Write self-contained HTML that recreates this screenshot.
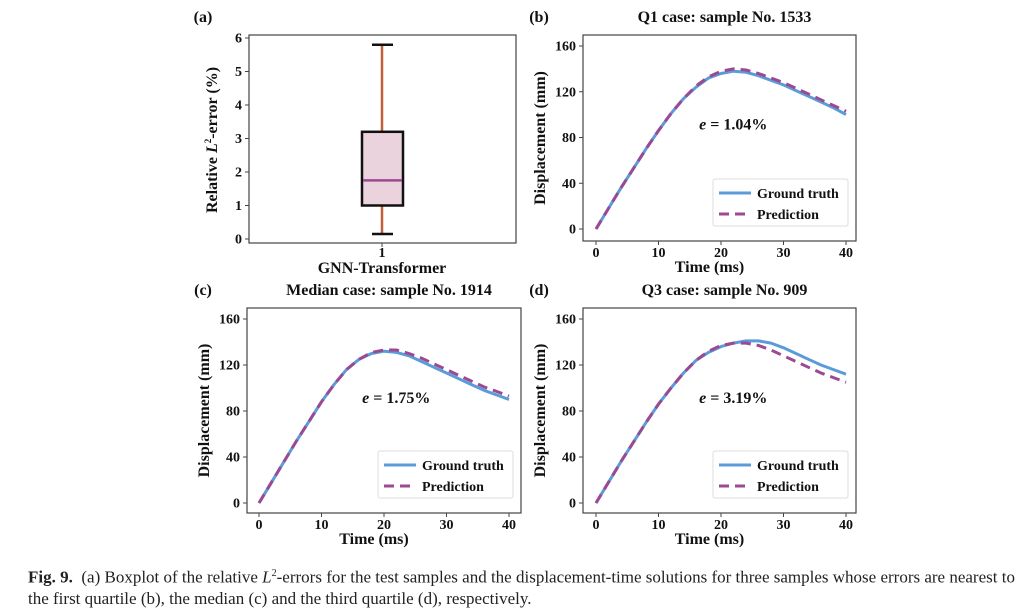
<!DOCTYPE html>
<html><head><meta charset="utf-8">
<style>
body{margin:0;background:#fff;width:1026px;height:606px;overflow:hidden;font-family:"Liberation Serif",serif;}
svg text{font-family:"Liberation Serif",serif;}
</style></head>
<body>
<svg id="fig" width="1026" height="606" xmlns="http://www.w3.org/2000/svg">
</svg>
<div style="position:absolute;left:28px;top:563px;width:1010px;font-size:17px;line-height:21px;font-family:'Liberation Serif',serif;color:#222;white-space:nowrap;">
<b>Fig. 9.</b>&nbsp; (a) Boxplot of the relative <i>L</i><sup style="font-size:10px">2</sup>-errors for the test samples and the displacement-time solutions for three samples whose errors are nearest to<br>the first quartile (b), the median (c) and the third quartile (d), respectively.
</div>
<script>
const boxStats = [0.15, 1.0, 1.75, 3.2, 5.8]; // min, q1, median, q3, max
const boxTicks = [0,1,2,3,4,5,6];
const timeVals = [0,2,4,6,8,10,12,14,16,18,20,22,24,26,28,30,32,34,36,38,40];
const q1Truth = [0,18,36,53,70,86,101,114,124,132,136,138,137,134,130,126,121,116,111,106,100];
const q1Pred  = [0,18,36,53,70,86,101,114,125,133,138,140,139,136,132,128,123,118,113,108,103];
const medTruth = [0,18,36,54,71,88,103,116,125,130,132,131,128,123,118,113,108,103,98,94,90];
const medPred  = [0,18,36,54,71,88,103,116,125,131,133,133,130,126,121,116,111,106,101,97,93];
const q3Truth = [0,18,36,53,70,86,100,113,124,131,136,139,141,141,139,135,130,125,120,116,112];
const q3Pred  = [0,18,36,53,70,86,100,113,124,132,137,139,139,137,133,128,123,118,113,109,105];
const xTicks = [0,10,20,30,40];
const yTicks = [0,40,80,120,160];

const NS='http://www.w3.org/2000/svg';
const svg=document.getElementById('fig');
function mk(tag,attrs,parent){const e=document.createElementNS(NS,tag);for(const k in attrs)e.setAttribute(k,attrs[k]);(parent||svg).appendChild(e);return e;}
function txt(s,x,y,size,anchor,parent,weight){const t=mk('text',{x:x,y:y,'font-size':size,'text-anchor':anchor||'middle','font-weight':weight||'bold',fill:'#111'},parent);t.textContent=s;return t;}

// Panel (a)
{
const g=mk('g',{});


const L=249,R=516,T=35,B=243;
const ys=v=>239-(v/6)*(239-38);
const cx=382;
mk('rect',{x:L,y:T,width:R-L,height:B-T,fill:'none',stroke:'#444','stroke-width':1.2},g);
boxTicks.forEach(v=>{const y=ys(v);mk('line',{x1:L-4,x2:L,y1:y,y2:y,stroke:'#444'},g);const t=txt(String(v),L-7,y+4.5,14,'end',g);});
mk('line',{x1:cx,x2:cx,y1:B,y2:B+4,stroke:'#444'},g);
txt('1',cx,257,14,'middle',g);
const xt=txt('GNN-Transformer',cx,273,16,'middle',g);

const yt=mk('text',{transform:'translate(217,140) rotate(-90)','font-size':16,'text-anchor':'middle','font-weight':'bold',fill:'#111'},g);
yt.innerHTML='Relative <tspan font-style="italic">L</tspan><tspan font-size="9" dy="-6">2</tspan><tspan dy="6">-error (%)</tspan>';

const w1=mk('line',{x1:cx,x2:cx,y1:ys(boxStats[0]),y2:ys(boxStats[1]),stroke:'#c0603a','stroke-width':2.5},g);

const w2=mk('line',{x1:cx,x2:cx,y1:ys(boxStats[3]),y2:ys(boxStats[4]),stroke:'#c0603a','stroke-width':2.5},g);

const bx=mk('rect',{x:362,y:ys(boxStats[3]),width:41,height:ys(boxStats[1])-ys(boxStats[3]),fill:'#ead3dd',stroke:'#111','stroke-width':2.5},g);

const md=mk('line',{x1:363,x2:402,y1:ys(boxStats[2]),y2:ys(boxStats[2]),stroke:'#9b4a92','stroke-width':2.5},g);

[0,4].forEach(i=>{const c=mk('line',{x1:372,x2:393,y1:ys(boxStats[i]),y2:ys(boxStats[i]),stroke:'#111','stroke-width':2.5},g);});
const pl=txt('(a)',203,22,16,'middle',g);
}

function panel(name,label,title,box,truth,pred,err){
const g=mk('g',{});


const {L,R,T,B,x0,x40,y0,y160,labelX}=box;
const xs=v=>x0+(v/40)*(x40-x0);
const ys=v=>y0-(v/160)*(y0-y160);
mk('rect',{x:L,y:T,width:R-L,height:B-T,fill:'none',stroke:'#444','stroke-width':1.2},g);
xTicks.forEach(v=>{const x=xs(v);mk('line',{x1:x,x2:x,y1:B,y2:B+4,stroke:'#444'},g);const t=txt(String(v),x,B+16,14,'middle',g);});
yTicks.forEach(v=>{const y=ys(v);mk('line',{x1:L-4,x2:L,y1:y,y2:y,stroke:'#444'},g);const t=txt(String(v),L-7,y+4.5,14,'end',g);});
const xt=txt('Time (ms)',(L+R)/2-10,B+31,16,'middle',g);
const yt=txt('Displacement (mm)',0,0,16,'middle',g);yt.setAttribute('transform',`translate(${L-38},${(T+B)/2}) rotate(-90)`);
const tt=txt(title,(L+R)/2+5,T-13,16,'middle',g);
const pl=txt(label,labelX,T-13,16,'middle',g);
const pts=arr=>arr.map((v,i)=>xs(timeVals[i]).toFixed(1)+','+ys(v).toFixed(1)).join(' ');
const l1=mk('polyline',{points:pts(truth),fill:'none',stroke:'#5b9bd9','stroke-width':3,'stroke-linejoin':'round'},g);

const l2=mk('polyline',{points:pts(pred),fill:'none',stroke:'#9b4a92','stroke-width':3,'stroke-dasharray':'10,6'},g);

const et=mk('text',{x:xs(16.5),y:ys(87),'font-size':16,'font-weight':'bold',fill:'#111'},g);
et.innerHTML='<tspan font-style="italic">e</tspan> = '+err;

const lg=mk('g',{},g);

const lx=R-143,ly=B-62;
mk('rect',{x:lx,y:ly,width:135,height:47,fill:'#fff',stroke:'#ddd','stroke-width':1,rx:2},lg);
const e1=mk('line',{x1:lx+6,x2:lx+38,y1:ly+14,y2:ly+14,stroke:'#5b9bd9','stroke-width':3},lg);

txt('Ground truth',lx+44,ly+19,14,'start',lg);
const e2=mk('line',{x1:lx+6,x2:lx+38,y1:ly+35,y2:ly+35,stroke:'#9b4a92','stroke-width':3,'stroke-dasharray':'10,6'},lg);

txt('Prediction',lx+44,ly+40,14,'start',lg);
}
panel('panel-b-q1','(b)','Q1 case: sample No. 1533',{L:583,R:856,T:35,B:241,x0:596,x40:846,y0:229,y160:46,labelX:539},q1Truth,q1Pred,'1.04%');
panel('panel-c-median','(c)','Median case: sample No. 1914',{L:247,R:521,T:308,B:513,x0:259,x40:509,y0:503,y160:319,labelX:203},medTruth,medPred,'1.75%');
panel('panel-d-q3','(d)','Q3 case: sample No. 909',{L:583,R:856,T:308,B:513,x0:596,x40:846,y0:503,y160:319,labelX:539},q3Truth,q3Pred,'3.19%');
</script>
</body></html>
